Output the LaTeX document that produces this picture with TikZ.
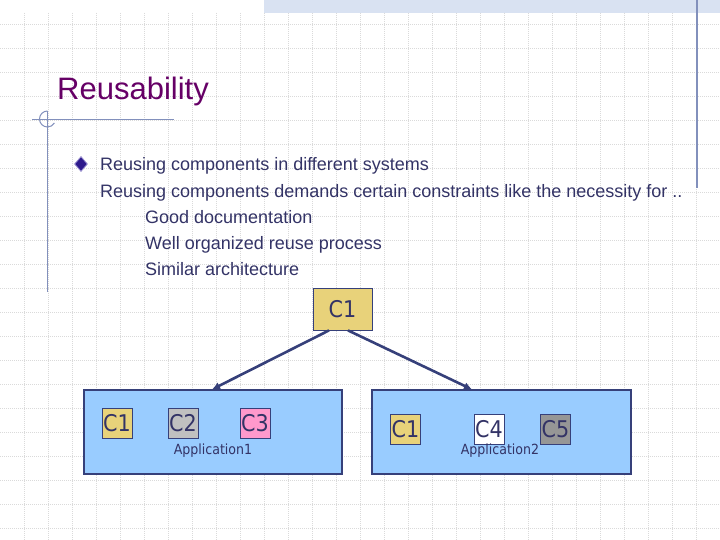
\documentclass[tikz,border=0pt]{standalone}
\usepackage{fontspec}
\setmainfont{Liberation Sans}
\newfontfamily\compfont{DejaVu Sans Condensed}
\usepackage{xcolor}
\usetikzlibrary{arrows.meta,positioning,shapes.geometric}
\definecolor{titlepurple}{HTML}{660066}
\definecolor{bodyblue}{HTML}{333366}
\definecolor{appblue}{HTML}{99CCFF}
\definecolor{edgeblue}{HTML}{36407A}
\definecolor{khaki}{HTML}{E8D27A}
\definecolor{pinkc}{HTML}{FF99CC}
\definecolor{lightgrayc}{HTML}{C0C0C0}
\definecolor{darkgrayc}{HTML}{969696}
\definecolor{decor}{HTML}{8290BC}
\definecolor{gridgray}{HTML}{DADADA}
\definecolor{band}{HTML}{D9E2F2}
\definecolor{bulletfill}{HTML}{2E1A8C}
\definecolor{bulletedge}{HTML}{9A90D0}

\begin{document}
\begin{tikzpicture}[x=1pt,y=-1pt,>=Latex,on grid,
  gridline/.style={draw=gridgray,line width=0.5pt,dash pattern=on 0.8pt off 1.2pt},
  textline/.style={font=\fontsize{18}{20}\selectfont,text=bodyblue,anchor=base west,inner sep=0pt},
  comp/.style={draw=edgeblue,line width=0.8pt,minimum size=30pt,inner sep=0pt,
    font=\compfont\fontsize{23}{24}\selectfont,text=bodyblue},
  app/.style={draw=edgeblue,line width=1.2pt,fill=appblue,minimum height=84pt,inner sep=0pt},
  applabel/.style={font=\compfont\fontsize{14}{15}\selectfont,text=bodyblue,anchor=base,inner sep=0pt},
  uses/.style={draw=edgeblue,line width=2.6pt,-{Latex[length=8pt,width=7.5pt]}}]
  \useasboundingbox[fill=white] (0,0) rectangle (720,540);
  \foreach \gx in {24,48,...,696}
    \draw[gridline] (\gx,13) -- (\gx,540);
  \foreach \gy in {24,48,...,528}
    \draw[gridline] (0,\gy) -- (720,\gy);
  \fill[band] (264,0) rectangle (720,13);
  \draw[decor,line width=1.3pt] (697,0) -- (697,188);
  \draw[decor,line width=1.3pt] (32,119.5) -- (174,119.5);
  \draw[decor,line width=1.3pt] (47.5,111) -- (47.5,292);
  \draw[decor,line width=1pt] (47.5,111) arc[start angle=-90,end angle=-330,radius=8];

  \node[font=\fontsize{31}{34}\selectfont,text=titlepurple,anchor=base west,inner sep=0pt]
    (title) at (57,100) {Reusability};
  \node[diamond,fill=bulletfill,draw=bulletedge,line width=0.8pt,minimum width=13pt,
    minimum height=15pt,inner sep=0pt] (bullet) at (81,164) {};
  \node[textline] (reuse) at (100,171) {Reusing components in different systems};
  \node[textline] (demand) at (100,197) {Reusing components demands certain constraints like the necessity for ..};
  \node[textline] (docs) at (145,223) {Good documentation};
  \node[textline] (process) at (145,249) {Well organized reuse process};
  \node[textline] (arch) at (145,275) {Similar architecture};

  \node[comp,fill=khaki,minimum width=59pt,minimum height=42pt] (shared) at (342.5,309) {C1};
  \node[app,minimum width=258pt] (app1) at (213,432) {};
  \node[app,minimum width=259pt] (app2) at (501.5,432) {};

  \node[comp,fill=khaki] (c1left) at (117,423) {C1};
  \node[comp,fill=lightgrayc,right=66pt of c1left] (c2) {C2};
  \node[comp,fill=pinkc,right=72pt of c2] (c3) {C3};
  \node[applabel] (app1label) at (213,454) {Application1};

  \node[comp,fill=khaki] (c1right) at (405.5,429) {C1};
  \node[comp,fill=white,right=83.5pt of c1right] (c4) {C4};
  \node[comp,fill=darkgrayc,right=66.5pt of c4] (c5) {C5};
  \node[applabel] (app2label) at (500,454) {Application2};

  \draw[uses] ([xshift=-13.5pt]shared.south) -- ([xshift=-1pt]app1.north);
  \draw[uses] ([xshift=5.5pt]shared.south) -- ([xshift=-29.5pt]app2.north);
\end{tikzpicture}
\end{document}
